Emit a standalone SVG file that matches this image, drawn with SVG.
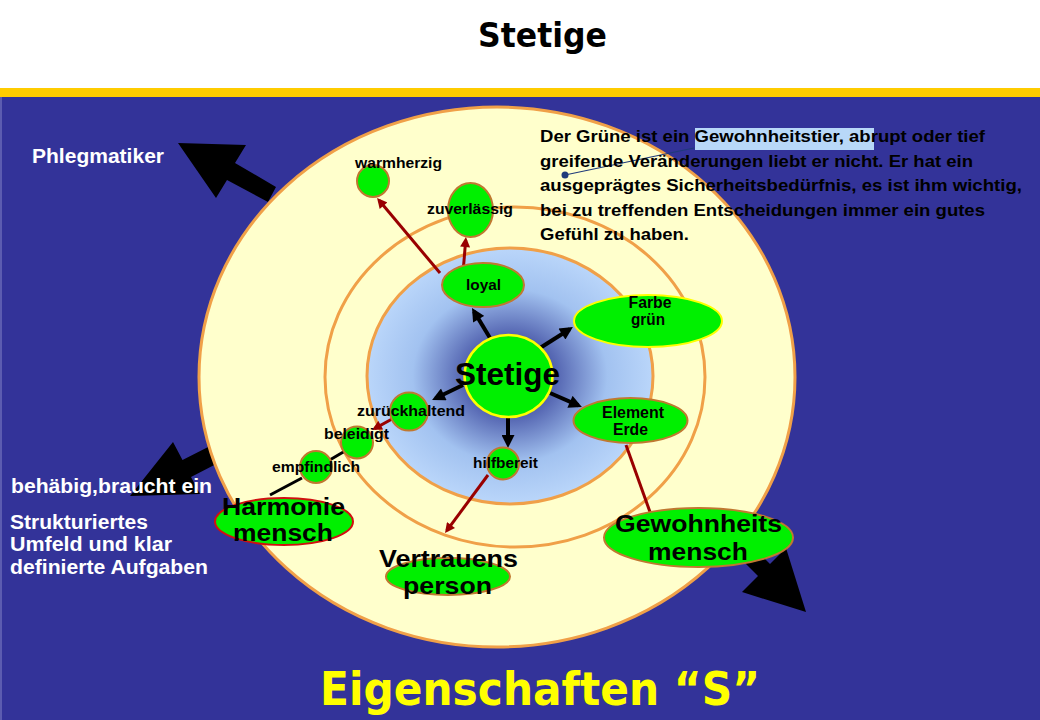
<svg xmlns="http://www.w3.org/2000/svg" width="1040" height="720" viewBox="0 0 1040 720">
<defs>
<radialGradient id="blueGrad" cx="0.5" cy="0.5" r="0.5">
<stop offset="0" stop-color="#101e78"/>
<stop offset="0.35" stop-color="#5a6cb6"/>
<stop offset="0.68" stop-color="#a2c2f0"/>
<stop offset="1" stop-color="#bad6fa"/>
</radialGradient>
<marker id="ahBlack" viewBox="0 0 10 10" refX="7" refY="5" markerUnits="userSpaceOnUse" markerWidth="14" markerHeight="13" orient="auto">
<path d="M0,0 L10,5 L0,10 z" fill="#000"/>
</marker>
<marker id="ahRed" viewBox="0 0 10 10" refX="7" refY="5" markerUnits="userSpaceOnUse" markerWidth="11" markerHeight="10" orient="auto">
<path d="M0,0 L10,5 L0,10 z" fill="#990000"/>
</marker>
<style>
.lbl{font-family:"Liberation Sans",Arial,sans-serif;font-weight:bold;fill:#000;text-anchor:middle}
.sm{font-size:15px}
.md{font-size:16px}
.lg{font-size:24px}
.node{fill:#00f000;stroke:#c07830;stroke-width:2}
.ring{fill:#ffffcc;stroke:#f0a048;stroke-width:3}
.side{font-family:"Liberation Sans",Arial,sans-serif;font-weight:bold;font-size:20px;fill:#fff}
.para{font-family:"Liberation Sans",Arial,sans-serif;font-weight:bold;font-size:17px;fill:#000}
.blk{stroke:#000;stroke-width:4;fill:none}
.red{stroke:#990000;stroke-width:3;fill:none}
.bigarrow{fill:#000}
</style>
</defs>

<rect x="0" y="0" width="1040" height="720" fill="#ffffff"/>
<rect x="0" y="88" width="1040" height="9" fill="#ffcc00"/>
<rect x="0" y="97" width="1040" height="623" fill="#333399"/>
<rect x="0" y="97" width="2" height="623" fill="#5c5cb0"/>

<text x="542.5" y="47" font-family="'DejaVu Sans',Verdana,sans-serif" font-weight="bold" font-size="33" text-anchor="middle" textLength="129" lengthAdjust="spacingAndGlyphs" fill="#000">Stetige</text>

<g id="bigArrows">
<polygon class="bigarrow" points="178,143 246,145 235,163 276,187 268,202 227,180 216,198"/>
<polygon class="bigarrow" points="130,496 173,442 182.5,460 216,443 222,461 191,477 200,494"/>
<polygon class="bigarrow" points="806,612 742,592 758,576 730,548 742,536 770,564 786,548"/>
</g>

<g id="rings">
<ellipse class="ring" cx="497" cy="377" rx="298" ry="270"/>
<ellipse class="ring" cx="515" cy="377" rx="190" ry="170"/>
<ellipse cx="510" cy="376" rx="143" ry="128" fill="url(#blueGrad)" stroke="#f0a048" stroke-width="3"/>
</g>

<g id="description">
<rect x="695" y="128" width="179" height="22" fill="#b8d8f8"/>
<line x1="565" y1="175" x2="694" y2="148" stroke="#1f3a7a" stroke-width="1.2"/>
<circle cx="565" cy="175" r="3.5" fill="#1f3a7a"/>
<text class="para" x="540" y="142" textLength="445" lengthAdjust="spacingAndGlyphs">Der Grüne ist ein Gewohnheitstier, abrupt oder tief</text>
<text class="para" x="540" y="166.5" textLength="433" lengthAdjust="spacingAndGlyphs">greifende Veränderungen liebt er nicht. Er hat ein</text>
<text class="para" x="540" y="191" textLength="482" lengthAdjust="spacingAndGlyphs">ausgeprägtes Sicherheitsbedürfnis, es ist ihm wichtig,</text>
<text class="para" x="540" y="215.5" textLength="445" lengthAdjust="spacingAndGlyphs">bei zu treffenden Entscheidungen immer ein gutes</text>
<text class="para" x="540" y="240" textLength="149" lengthAdjust="spacingAndGlyphs">Gefühl zu haben.</text>
</g>

<g id="sideTexts">
<text class="side" x="32" y="163" textLength="132" lengthAdjust="spacingAndGlyphs">Phlegmatiker</text>
<text class="side" x="11" y="493" textLength="201" lengthAdjust="spacingAndGlyphs">behäbig,braucht ein</text>
<text class="side" x="10" y="529" textLength="138" lengthAdjust="spacingAndGlyphs">Strukturiertes</text>
<text class="side" x="10" y="551" textLength="162" lengthAdjust="spacingAndGlyphs">Umfeld und klar</text>
<text class="side" x="10" y="574" textLength="198" lengthAdjust="spacingAndGlyphs">definierte Aufgaben</text>
</g>

<g id="connectors">
<line class="blk" x1="490" y1="338" x2="474" y2="311.4" marker-end="url(#ahBlack)"/>
<line class="blk" x1="540" y1="348" x2="569.6" y2="329.2" marker-end="url(#ahBlack)"/>
<line class="blk" x1="550" y1="393" x2="578.3" y2="405.4" marker-end="url(#ahBlack)"/>
<line class="blk" x1="508" y1="417" x2="508" y2="444" marker-end="url(#ahBlack)"/>
<line class="blk" x1="463" y1="385" x2="435.6" y2="398.3" marker-end="url(#ahBlack)"/>
<line class="red" x1="463" y1="273" x2="465.7" y2="240" marker-end="url(#ahRed)"/>
<line class="red" x1="440" y1="273" x2="379" y2="200.3" marker-end="url(#ahRed)"/>
<line class="red" x1="392" y1="419" x2="374.6" y2="428.6" marker-end="url(#ahRed)"/>
<line class="red" x1="488" y1="475" x2="446.8" y2="530.6" marker-end="url(#ahRed)"/>
<line class="red" x1="626" y1="445" x2="650" y2="512"/>
<line stroke="#000" stroke-width="3" x1="345" y1="451" x2="328" y2="461"/>
<line stroke="#000" stroke-width="3" x1="302" y1="478" x2="270" y2="495"/>
</g>

<g id="node-stetige">
<ellipse cx="508.5" cy="376" rx="44" ry="41" fill="#00f000" stroke="#ffff00" stroke-width="2.5"/>
<text class="lbl" x="507.5" y="385" font-size="32" textLength="105" lengthAdjust="spacingAndGlyphs">Stetige</text>
</g>
<g id="node-loyal">
<ellipse class="node" cx="483" cy="285" rx="41" ry="22"/>
<text class="lbl sm" x="483.5" y="290" textLength="35" lengthAdjust="spacingAndGlyphs">loyal</text>
</g>
<g id="node-zuverlaessig">
<ellipse class="node" cx="470.5" cy="210" rx="22.5" ry="27"/>
<text class="lbl sm" x="470" y="214" textLength="86" lengthAdjust="spacingAndGlyphs">zuverlässig</text>
</g>
<g id="node-warmherzig">
<circle class="node" cx="373" cy="181" r="16"/>
<text class="lbl sm" x="398.5" y="168" textLength="87" lengthAdjust="spacingAndGlyphs">warmherzig</text>
</g>
<g id="node-farbe">
<ellipse cx="648" cy="321" rx="74" ry="26" fill="#00f000" stroke="#ffff00" stroke-width="2"/>
<text class="lbl md" x="650" y="308" textLength="43" lengthAdjust="spacingAndGlyphs">Farbe</text>
<text class="lbl md" x="648" y="325" textLength="34" lengthAdjust="spacingAndGlyphs">grün</text>
</g>
<g id="node-element">
<ellipse class="node" cx="630.5" cy="420.5" rx="57" ry="22.5"/>
<text class="lbl md" x="633" y="418" textLength="62" lengthAdjust="spacingAndGlyphs">Element</text>
<text class="lbl md" x="630.5" y="435" textLength="35" lengthAdjust="spacingAndGlyphs">Erde</text>
</g>
<g id="node-zurueckhaltend">
<circle class="node" cx="409" cy="411.5" r="19"/>
<text class="lbl sm" x="411" y="416" textLength="108" lengthAdjust="spacingAndGlyphs">zurückhaltend</text>
</g>
<g id="node-beleidigt">
<circle class="node" cx="357" cy="442.5" r="16"/>
<text class="lbl sm" x="356.5" y="439" textLength="65" lengthAdjust="spacingAndGlyphs">beleidigt</text>
</g>
<g id="node-empfindlich">
<circle class="node" cx="316" cy="467" r="16"/>
<text class="lbl sm" x="316" y="472" textLength="88" lengthAdjust="spacingAndGlyphs">empfindlich</text>
</g>
<g id="node-hilfbereit">
<circle class="node" cx="503" cy="463.5" r="16"/>
<text class="lbl sm" x="505.5" y="468" textLength="65" lengthAdjust="spacingAndGlyphs">hilfbereit</text>
</g>
<g id="node-harmonie">
<ellipse cx="284" cy="521.5" rx="69" ry="23.5" fill="#00f000" stroke="#d01010" stroke-width="2"/>
<text class="lbl lg" x="283.5" y="515" textLength="123" lengthAdjust="spacingAndGlyphs">Harmonie</text>
<text class="lbl lg" x="283" y="541" textLength="100" lengthAdjust="spacingAndGlyphs">mensch</text>
</g>
<g id="node-vertrauens">
<ellipse class="node" cx="448" cy="576.5" rx="62" ry="18.5"/>
<text class="lbl lg" x="448.5" y="567" textLength="139" lengthAdjust="spacingAndGlyphs">Vertrauens</text>
<text class="lbl lg" x="447.5" y="594" textLength="89" lengthAdjust="spacingAndGlyphs">person</text>
</g>
<g id="node-gewohnheits">
<ellipse class="node" cx="698.5" cy="537.5" rx="94.5" ry="29.5"/>
<text class="lbl lg" x="698.5" y="532" textLength="167" lengthAdjust="spacingAndGlyphs">Gewohnheits</text>
<text class="lbl lg" x="698" y="560" textLength="100" lengthAdjust="spacingAndGlyphs">mensch</text>
</g>

<text x="540" y="705" font-family="'DejaVu Sans',Verdana,sans-serif" font-weight="bold" font-size="46" text-anchor="middle" textLength="440" lengthAdjust="spacingAndGlyphs" fill="#ffff00">Eigenschaften “S”</text>
</svg>
